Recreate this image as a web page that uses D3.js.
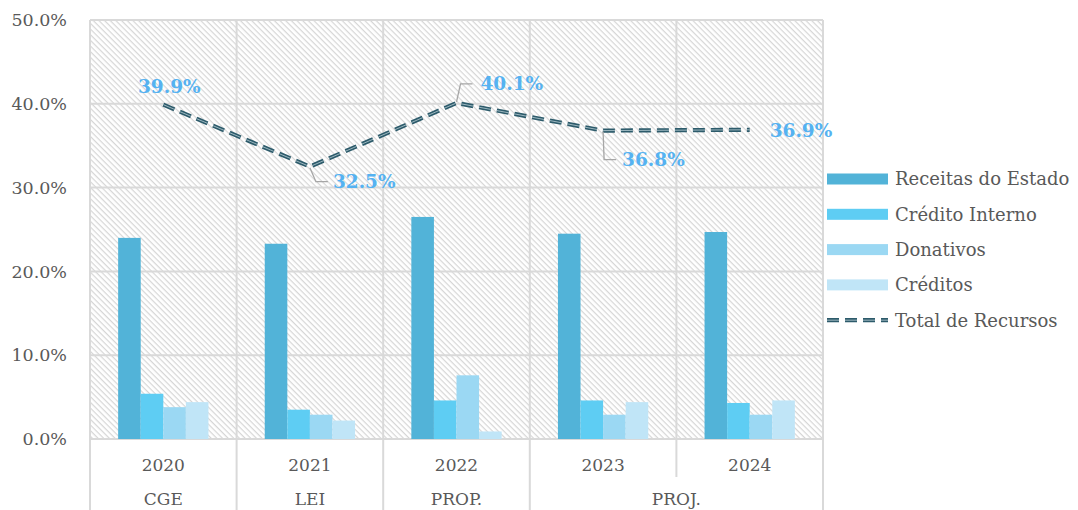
<!DOCTYPE html>
<head>
  <meta charset="utf-8">
  <script src="https://d3js.org/d3.v7.min.js"></script>
  <style>
  body,html {margin:0; background:#fff; font-family:"Palatino Linotype","Book Antiqua",Palatino,"DejaVu Serif",serif;}
  svg text {fill:#595959;}
  .lbl {font-weight:bold; font-size:18.5px;}
  </style>
</head>
<body>
<script>
  // data
  const years = ["2020", "2021", "2022", "2023", "2024"];
  const groups = [["CGE", ["2020"]], ["LEI", ["2021"]], ["PROP.", ["2022"]], ["PROJ.", ["2023", "2024"]]];
  const series = ["Receitas do Estado", "Crédito Interno", "Donativos", "Créditos"];
  const receitas = [24.0, 23.3, 26.5, 24.5, 24.7];
  const creditoInterno = [5.4, 3.5, 4.6, 4.6, 4.3];
  const donativos = [3.8, 2.9, 7.6, 2.9, 2.9];
  const creditos = [4.4, 2.2, 0.9, 4.4, 4.6];
  const total = [39.9, 32.5, 40.1, 36.8, 36.9];
  const yTicks = [0, 10, 20, 30, 40, 50];

  const colors = ["#52b3d8", "#5ecdf3", "#9bd8f3", "#c0e5f7"];
  const lineDark = "#2d5b6b";
  const labelColor = "#55b2f1";

  const width = 1078, height = 510;
  const plot = {left: 90, right: 823, top: 20, bottom: 439};

  const svg = d3.select("body").append("svg")
    .attr("width", width).attr("height", height);

  // hatch pattern
  const defs = svg.append("defs");
  const pat = defs.append("pattern")
    .attr("id", "hatch").attr("patternUnits", "userSpaceOnUse")
    .attr("width", 4).attr("height", 4)
    .attr("patternTransform", "rotate(45)");
  pat.append("rect").attr("width", 4).attr("height", 4).attr("fill", "#fff");
  pat.append("rect").attr("width", 4).attr("height", 1.2).attr("fill", "#d6d6d6");

  const x0 = d3.scaleBand().domain(years).range([plot.left, plot.right]);
  const bw = x0.bandwidth();
  const x1 = d3.scaleBand().domain(series).range([bw * 0.192, bw * 0.808]);
  const y = d3.scaleLinear().domain([0, 50]).range([plot.bottom, plot.top]);

  svg.append("rect")
    .attr("x", plot.left).attr("y", plot.top)
    .attr("width", plot.right - plot.left).attr("height", plot.bottom - plot.top)
    .attr("fill", "url(#hatch)");

  // grid
  const grid = svg.append("g").attr("stroke", "#d9d9d9").attr("stroke-width", 2);
  grid.selectAll(".h").data(yTicks).enter().append("line")
    .attr("x1", plot.left).attr("x2", plot.right)
    .attr("y1", d => y(d)).attr("y2", d => y(d));
  const vlines = years.map(d => x0(d)).concat([plot.right]);
  grid.selectAll(".v").data(vlines).enter().append("line")
    .attr("x1", d => d).attr("x2", d => d)
    .attr("y1", plot.top)
    .attr("y2", (d, i) => i == 4 ? plot.bottom + 38 : height);

  // y axis labels
  svg.append("g").selectAll("text").data(yTicks).enter().append("text")
    .attr("x", 67).attr("y", d => y(d)).attr("dy", "0.35em")
    .attr("text-anchor", "end").style("font-size", "17.5px")
    .text(d => d.toFixed(1) + "%");

  // bars
  const vals = [receitas, creditoInterno, donativos, creditos];
  series.forEach((s, si) => {
    svg.append("g").selectAll("rect").data(vals[si]).enter().append("rect")
      .attr("x", (d, i) => x0(years[i]) + x1(s))
      .attr("width", x1.bandwidth())
      .attr("y", d => y(d))
      .attr("height", d => y(0) - y(d))
      .attr("fill", colors[si]);
  });

  // total line (compound dashed)
  const line = d3.line().x((d, i) => x0(years[i]) + bw / 2).y(d => y(d));
  svg.append("path").attr("d", line(total)).attr("fill", "none")
    .attr("stroke", lineDark).attr("stroke-width", 4.2).attr("stroke-dasharray", "12,6");
  svg.append("path").attr("d", line(total)).attr("fill", "none")
    .attr("stroke", "#a9c2ca").attr("stroke-width", 0.9).attr("stroke-dasharray", "12,6");

  // data labels: [bendDx, leaderEndDx, dy, textDx, anchor]; leader drawn when leaderEndDx > 0
  const labelPos = [
    [0, 0, -18, 6, "middle"],
    [6, 18, 15, 23, "start"],
    [4, 16, -19, 24, "start"],
    [1, 13, 29, 19, "start"],
    [0, 0, 1, 20, "start"]
  ];
  total.forEach((v, i) => {
    const px = x0(years[i]) + bw / 2, py = y(v);
    const [bx, ex, dy, tx, anchor] = labelPos[i];
    if (ex > 0) {
      const ly = py + dy;
      svg.append("path")
        .attr("d", `M${px},${py + (dy > 0 ? 1 : -1)}L${px + bx},${ly}L${px + ex},${ly}`)
        .attr("fill", "none").attr("stroke", "#a6a6a6").attr("stroke-width", 1.3);
    }
    svg.append("text").attr("class", "lbl")
      .attr("x", px + tx).attr("y", py + dy).attr("dy", "0.35em")
      .attr("text-anchor", anchor)
      .style("fill", labelColor)
      .text(v.toFixed(1) + "%");
  });

  // category labels
  svg.append("g").selectAll("text").data(years).enter().append("text")
    .attr("x", d => x0(d) + bw / 2).attr("y", 465).attr("dy", "0.35em")
    .attr("text-anchor", "middle").style("font-size", "17px").text(d => d);
  svg.append("g").selectAll("text").data(groups).enter().append("text")
    .attr("x", d => (x0(d[1][0]) + x0(d[1][d[1].length - 1]) + bw) / 2)
    .attr("y", 505).attr("text-anchor", "middle").style("font-size", "17px")
    .text(d => d[0]);

  // legend
  const leg = svg.append("g").attr("transform", "translate(827,179)");
  const items = leg.selectAll("g").data(series.concat(["Total de Recursos"])).enter().append("g")
    .attr("transform", (d, i) => `translate(0,${i * 35.3})`);
  items.filter((d, i) => i < 4).append("rect")
    .attr("x", 0).attr("y", -5.5).attr("width", 61).attr("height", 11)
    .attr("fill", (d, i) => colors[i]);
  const last = items.filter((d, i) => i == 4);
  last.append("line").attr("x1", 0).attr("x2", 61)
    .attr("stroke", lineDark).attr("stroke-width", 4.2).attr("stroke-dasharray", "12,6");
  last.append("line").attr("x1", 0).attr("x2", 61)
    .attr("stroke", "#a9c2ca").attr("stroke-width", 0.9).attr("stroke-dasharray", "12,6");
  items.append("text").attr("x", 68).attr("dy", "0.35em")
    .style("font-size", "18px").text(d => d);
</script>
</body>
